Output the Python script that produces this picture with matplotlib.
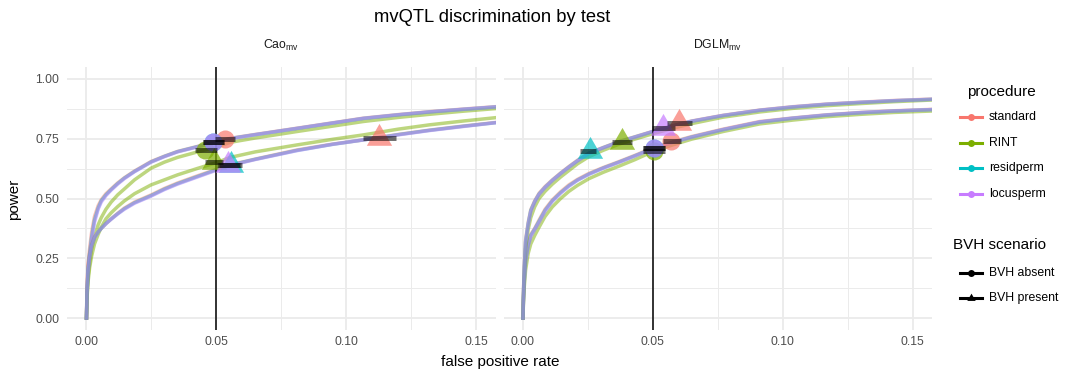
import matplotlib
matplotlib.use('Agg')
import matplotlib.pyplot as plt
from matplotlib.lines import Line2D
from matplotlib.path import Path

plt.rcParams['font.family'] = ['Liberation Sans', 'DejaVu Sans']
plt.rcParams['mathtext.fontset'] = 'custom'
plt.rcParams['mathtext.rm'] = 'Liberation Sans'
plt.rcParams['mathtext.it'] = 'Liberation Sans:italic'
plt.rcParams['mathtext.bf'] = 'Liberation Sans:bold'

# ---------------- data ----------------
tests = ['Cao', 'DGLM']
strip_labels = [r'Cao$_{\mathrm{mv}}$', r'DGLM$_{\mathrm{mv}}$']
procedures = ['standard', 'RINT', 'residperm', 'locusperm']
scenarios = ['BVH absent', 'BVH present']
proc_colors = ['#F8766D', '#7CAE00', '#00BFC4', '#C77CFF']

x_ticks = [0.00, 0.05, 0.10, 0.15]
x_tick_labels = ['0.00', '0.05', '0.10', '0.15']
y_ticks = [0.00, 0.25, 0.50, 0.75, 1.00]
y_tick_labels = ['0.00', '0.25', '0.50', '0.75', '1.00']
nominal_alpha = 0.05

# ROC curves, Cao test
cao_fpr = [0, 0.0002, 0.0006, 0.0012, 0.002, 0.0031, 0.0045, 0.0057, 0.0075, 0.0095,
           0.012, 0.0146, 0.0185, 0.0249, 0.03, 0.0351, 0.0428, 0.05, 0.0554, 0.065,
           0.081, 0.095, 0.1066, 0.12, 0.132, 0.145, 0.1575]
cao_absent_standard = [0, 0.13, 0.22, 0.29, 0.36, 0.425, 0.47, 0.495, 0.52, 0.54,
                       0.565, 0.587, 0.615, 0.655, 0.677, 0.697, 0.718, 0.737, 0.752, 0.768,
                       0.794, 0.817, 0.836, 0.851, 0.863, 0.874, 0.884]
cao_absent_RINT = [0, 0.09, 0.17, 0.23, 0.29, 0.34, 0.39, 0.42, 0.455, 0.485,
                   0.515, 0.54, 0.578, 0.627, 0.652, 0.672, 0.695, 0.716, 0.735, 0.753,
                   0.78, 0.803, 0.822, 0.839, 0.852, 0.865, 0.876]
cao_absent_residperm = [0, 0.11, 0.20, 0.27, 0.34, 0.41, 0.46, 0.49, 0.515, 0.537,
                        0.562, 0.585, 0.613, 0.653, 0.676, 0.696, 0.717, 0.736, 0.751, 0.767,
                        0.793, 0.816, 0.835, 0.850, 0.862, 0.873, 0.883]
cao_absent_locusperm = [0, 0.10, 0.19, 0.26, 0.33, 0.40, 0.455, 0.485, 0.512, 0.535,
                        0.56, 0.583, 0.612, 0.652, 0.675, 0.695, 0.716, 0.735, 0.750, 0.767,
                        0.793, 0.816, 0.835, 0.850, 0.862, 0.873, 0.883]
cao_present_standard = [0, 0.12, 0.22, 0.27, 0.31, 0.34, 0.36, 0.375, 0.395, 0.415,
                        0.438, 0.46, 0.485, 0.515, 0.542, 0.565, 0.595, 0.622, 0.641, 0.665,
                        0.703, 0.728, 0.745, 0.768, 0.786, 0.803, 0.818]
cao_present_RINT = [0, 0.08, 0.15, 0.21, 0.26, 0.31, 0.35, 0.38, 0.415, 0.44,
                    0.466, 0.49, 0.52, 0.557, 0.578, 0.599, 0.626, 0.65, 0.672, 0.695,
                    0.724, 0.748, 0.766, 0.79, 0.808, 0.824, 0.838]
cao_present_residperm = [0, 0.10, 0.20, 0.26, 0.305, 0.337, 0.36, 0.375, 0.395, 0.414,
                         0.436, 0.457, 0.482, 0.512, 0.539, 0.562, 0.592, 0.62, 0.64, 0.664,
                         0.701, 0.727, 0.745, 0.767, 0.785, 0.802, 0.817]
cao_present_locusperm = [0, 0.10, 0.19, 0.25, 0.30, 0.335, 0.36, 0.375, 0.395, 0.413,
                         0.435, 0.455, 0.48, 0.51, 0.537, 0.56, 0.59, 0.618, 0.638, 0.663,
                         0.70, 0.727, 0.745, 0.766, 0.784, 0.801, 0.817]

# ROC curves, DGLM test
dglm_fpr = [0, 0.0002, 0.0005, 0.001, 0.002, 0.003, 0.0045, 0.0062, 0.0085, 0.0113,
            0.0145, 0.0177, 0.021, 0.0254, 0.031, 0.0369, 0.043, 0.0497, 0.057, 0.0649,
            0.077, 0.0912, 0.104, 0.1168, 0.13, 0.143, 0.1578]
dglm_absent_standard = [0, 0.09, 0.16, 0.244, 0.31, 0.35, 0.375, 0.41, 0.455, 0.494,
                        0.528, 0.557, 0.58, 0.605, 0.63, 0.654, 0.68, 0.71, 0.735, 0.759,
                        0.79, 0.822, 0.837, 0.85, 0.86, 0.867, 0.873]
dglm_absent_RINT = [0, 0.07, 0.13, 0.20, 0.27, 0.31, 0.345, 0.38, 0.425, 0.465,
                    0.50, 0.53, 0.555, 0.583, 0.61, 0.635, 0.662, 0.695, 0.722, 0.748,
                    0.78, 0.812, 0.828, 0.842, 0.852, 0.86, 0.866]
dglm_absent_residperm = [0, 0.085, 0.155, 0.24, 0.305, 0.345, 0.372, 0.405, 0.45, 0.49,
                         0.524, 0.553, 0.577, 0.602, 0.628, 0.652, 0.678, 0.708, 0.733, 0.757,
                         0.788, 0.82, 0.836, 0.849, 0.859, 0.866, 0.872]
dglm_absent_locusperm = [0, 0.08, 0.15, 0.235, 0.30, 0.34, 0.37, 0.40, 0.447, 0.488,
                         0.522, 0.551, 0.576, 0.601, 0.627, 0.651, 0.677, 0.707, 0.732, 0.756,
                         0.788, 0.82, 0.836, 0.849, 0.859, 0.866, 0.872]
dglm_present_standard = [0, 0.12, 0.22, 0.327, 0.40, 0.453, 0.49, 0.522, 0.55, 0.578,
                         0.607, 0.634, 0.66, 0.69, 0.714, 0.738, 0.758, 0.78, 0.803, 0.824,
                         0.848, 0.870, 0.884, 0.895, 0.903, 0.91, 0.916]
dglm_present_RINT = [0, 0.10, 0.19, 0.29, 0.37, 0.42, 0.465, 0.50, 0.53, 0.56,
                     0.59, 0.617, 0.645, 0.675, 0.702, 0.727, 0.748, 0.77, 0.792, 0.813,
                     0.84, 0.862, 0.877, 0.888, 0.897, 0.905, 0.912]
dglm_present_residperm = [0, 0.11, 0.21, 0.32, 0.395, 0.45, 0.487, 0.519, 0.547, 0.576,
                          0.605, 0.632, 0.658, 0.689, 0.713, 0.737, 0.757, 0.779, 0.802, 0.823,
                          0.847, 0.869, 0.883, 0.894, 0.902, 0.909, 0.915]
dglm_present_locusperm = [0, 0.11, 0.21, 0.315, 0.39, 0.445, 0.485, 0.517, 0.546, 0.575,
                          0.604, 0.631, 0.657, 0.688, 0.712, 0.736, 0.756, 0.779, 0.802, 0.823,
                          0.847, 0.869, 0.883, 0.894, 0.902, 0.909, 0.915]

# observed operating points at nominal alpha, with FPR intervals
point_test = ['Cao'] * 8 + ['DGLM'] * 8
point_scenario = (['BVH absent'] * 4 + ['BVH present'] * 4) * 2
point_procedure = procedures * 4
point_fpr = [0.0533, 0.0458, 0.0489, 0.0489, 0.1128, 0.0490, 0.0556, 0.0546,
             0.0570, 0.0505, 0.0503, 0.0505, 0.0601, 0.0380, 0.0258, 0.0540]
point_power = [0.748, 0.703, 0.738, 0.738, 0.752, 0.652, 0.640, 0.640,
               0.740, 0.698, 0.712, 0.712, 0.815, 0.735, 0.699, 0.796]
point_lo = [0.0496, 0.0419, 0.0450, 0.0450, 0.1066, 0.0455, 0.0512, 0.0502,
            0.0538, 0.0463, 0.0463, 0.0463, 0.0553, 0.0341, 0.0219, 0.0495]
point_hi = [0.0570, 0.0502, 0.0530, 0.0530, 0.1191, 0.0525, 0.0600, 0.0590,
            0.0610, 0.0547, 0.0547, 0.0547, 0.0649, 0.0418, 0.0283, 0.0585]

curves = {
    ('Cao', 'BVH absent'): (cao_fpr, [cao_absent_standard, cao_absent_RINT,
                                      cao_absent_residperm, cao_absent_locusperm]),
    ('Cao', 'BVH present'): (cao_fpr, [cao_present_standard, cao_present_RINT,
                                       cao_present_residperm, cao_present_locusperm]),
    ('DGLM', 'BVH absent'): (dglm_fpr, [dglm_absent_standard, dglm_absent_RINT,
                                        dglm_absent_residperm, dglm_absent_locusperm]),
    ('DGLM', 'BVH present'): (dglm_fpr, [dglm_present_standard, dglm_present_RINT,
                                         dglm_present_residperm, dglm_present_locusperm]),
}

# ---------------- figure ----------------
W, H = 1068, 375
fig = plt.figure(figsize=(W / 100, H / 100), dpi=100)

tri = Path([(0, 1), (-0.866, -0.5), (0.866, -0.5), (0, 1)],
           [Path.MOVETO, Path.LINETO, Path.LINETO, Path.CLOSEPOLY])
shape = {'BVH absent': 'o', 'BVH present': tri}
shape_size = {'BVH absent': 13, 'BVH present': 21}

panel_left_px = [67, 503.5]
panel_w_px = 428.5
panel_top_px, panel_bot_px = 67, 330
tick_color = '#4D4D4D'
grid_color = '#EBEBEB'

for ti, test in enumerate(tests):
    ax = fig.add_axes([panel_left_px[ti] / W, 1 - panel_bot_px / H,
                       panel_w_px / W, (panel_bot_px - panel_top_px) / H])
    ax.set_xlim(-0.0075, 0.1575)
    ax.set_ylim(-0.05, 1.05)
    for s in ax.spines.values():
        s.set_visible(False)
    ax.set_xticks(x_ticks)
    ax.set_xticklabels(x_tick_labels)
    ax.set_xticks([0.025, 0.075, 0.125], minor=True)
    ax.set_yticks(y_ticks)
    ax.set_yticks([0.125, 0.375, 0.625, 0.875], minor=True)
    if ti == 0:
        ax.set_yticklabels(y_tick_labels)
    else:
        ax.set_yticklabels([])
    ax.tick_params(which='both', length=0, labelsize=8.8, labelcolor=tick_color)
    ax.tick_params(axis='y', pad=5.5)
    ax.tick_params(axis='x', pad=4.5)
    ax.grid(which='major', color=grid_color, lw=1.3)
    ax.grid(which='minor', color=grid_color, lw=0.7)
    ax.set_axisbelow(True)

    # curves
    for sc in scenarios:
        fpr, powers = curves[(test, sc)]
        for pi, proc in enumerate(procedures):
            ax.plot(fpr, powers[pi], color=proc_colors[pi], lw=2.5, alpha=0.5,
                    solid_joinstyle='round', zorder=2)

    ax.axvline(nominal_alpha, color='black', lw=1.1, zorder=3)

    # points
    idx = [i for i in range(len(point_test)) if point_test[i] == test]
    for i in idx:
        pi = procedures.index(point_procedure[i])
        sc = point_scenario[i]
        ax.plot([point_fpr[i]], [point_power[i]], ls='none', marker=shape[sc],
                ms=shape_size[sc], mew=0, color=proc_colors[pi], alpha=0.7, zorder=4)
    for i in idx:
        ax.plot([point_lo[i], point_hi[i]], [point_power[i], point_power[i]],
                color='black', lw=3.6, alpha=0.55, solid_capstyle='butt', zorder=5)

    fig.text((panel_left_px[ti] + panel_w_px / 2) / W, 1 - 45 / H, strip_labels[ti],
             ha='center', va='center', fontsize=8.8, color='#1A1A1A')

# titles
fig.text(492 / W, 1 - 17 / H, 'mvQTL discrimination by test', ha='center', va='center',
         fontsize=13.2)
fig.text(500 / W, 1 - 362 / H, 'false positive rate', ha='center', va='center', fontsize=11)
fig.text(14 / W, 1 - 199 / H, 'power', ha='center', va='center', rotation=90, fontsize=11)

# legends
def key(y_px, color, marker, ms):
    fig.add_artist(Line2D([960 / W, 982 / W], [1 - y_px / H, 1 - y_px / H],
                          transform=fig.transFigure, color=color, lw=2.2))
    fig.add_artist(Line2D([971 / W], [1 - y_px / H], transform=fig.transFigure,
                          color=color, marker=marker, ms=ms, mew=0, ls='none'))

fig.text(967 / W, 1 - 92 / H, 'procedure', ha='left', va='center', fontsize=11)
for pi, proc in enumerate(procedures):
    y = 117 + pi * 25.5
    key(y, proc_colors[pi], 'o', 5)
    fig.text(989 / W, 1 - y / H, proc, ha='left', va='center', fontsize=8.8)

fig.text(953 / W, 1 - 245 / H, 'BVH scenario', ha='left', va='center', fontsize=11)
for si, sc in enumerate(scenarios):
    y = 273 + si * 25
    key(y, 'black', shape[sc], 5 if sc == 'BVH absent' else 7)
    fig.text(989 / W, 1 - y / H, sc, ha='left', va='center', fontsize=8.8)

fig.savefig('out.png', dpi=100)
